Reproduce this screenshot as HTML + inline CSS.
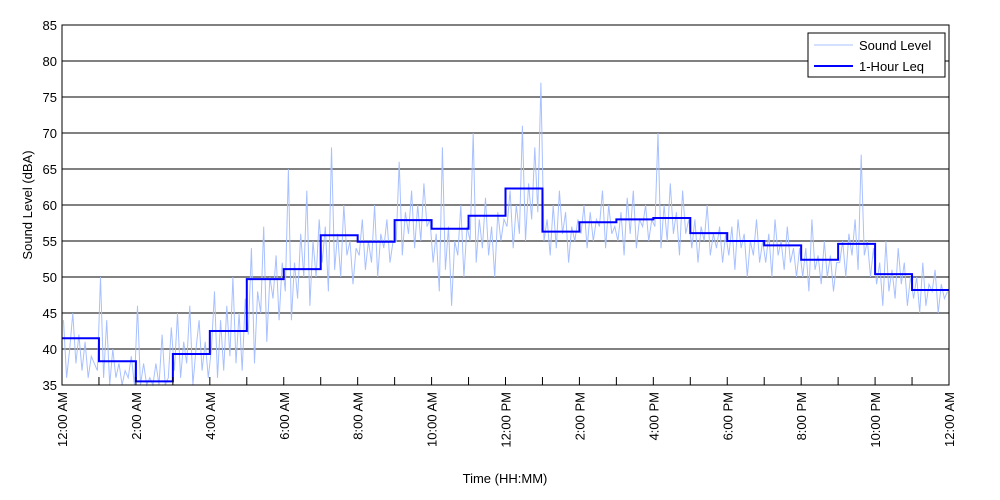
<!DOCTYPE html>
<html><head><meta charset="utf-8"><style>
body{margin:0;background:#fff;}
svg{display:block;font-family:"Liberation Sans",Arial,sans-serif;}
</style></head><body>
<svg id="chart" width="1000" height="500" viewBox="0 0 1000 500">
<rect width="1000" height="500" fill="#fff"/>
<g id="grid"></g>
<g id="trace"></g>
<g id="leq"></g>
<rect x="62" y="25" width="887" height="360" fill="none" stroke="#000" stroke-width="1"/>
<g id="ticks"></g>
<text x="0" y="0" font-size="13" text-anchor="middle" transform="translate(32,205) rotate(-90)">Sound Level (dBA)</text>
<text x="505" y="483" font-size="13" text-anchor="middle">Time (HH:MM)</text>
<g>
<rect x="808" y="33" width="137" height="44" fill="#fff" stroke="#000"/>
<line x1="814" y1="45" x2="853" y2="45" stroke="#a8c0ff" stroke-width="1"/>
<text x="859" y="50" font-size="13">Sound Level</text>
<line x1="814" y1="66" x2="853" y2="66" stroke="#0000ff" stroke-width="2"/>
<text x="859" y="71" font-size="13">1-Hour Leq</text>
</g>
</svg>
<script>
const yTicks=[35,40,45,50,55,60,65,70,75,80,85];
const xTickLabels=["12:00 AM","2:00 AM","4:00 AM","6:00 AM","8:00 AM","10:00 AM","12:00 PM","2:00 PM","4:00 PM","6:00 PM","8:00 PM","10:00 PM","12:00 AM"];
const leqValues=[41.5,38.3,35.5,39.3,42.5,49.7,51.1,55.8,54.9,57.9,56.7,58.5,62.3,56.3,57.6,58.0,58.2,56.1,55.0,54.4,52.4,54.6,50.4,48.2];
const soundValues=[
44,36,40,45,38,42,37,41,36,39,38,37, 50,36,44,35,40,36,38,35,37,36,39,35,
46,35,38,35,36,35,38,35,42,35,36,43, 37,45,36,41,38,46,35,40,44,37,41,36,
40,48,36,44,37,46,39,50,38,45,37,47, 42,54,38,48,45,57,41,50,47,53,44,52,
48,65,44,52,47,56,50,62,46,55,50,58, 52,57,48,68,51,56,50,60,53,55,49,54,
53,58,51,55,52,60,50,56,54,58,52,55, 55,66,53,59,56,62,54,60,55,63,57,58,
52,56,48,68,51,57,46,55,53,60,50,57, 55,70,52,58,54,61,53,57,50,59,55,58,
57,62,54,60,56,71,55,63,58,68,59,77, 55,58,53,60,54,62,56,59,52,57,55,58,
56,60,54,59,55,58,57,62,54,60,56,57, 55,59,53,61,56,62,54,58,57,60,55,58,
57,70,54,60,55,63,56,59,53,62,56,58, 54,58,52,57,55,60,53,56,54,57,52,56,
53,57,51,58,54,56,50,55,53,58,52,55, 52,56,50,58,53,55,51,57,52,54,50,54,
50,54,48,58,51,53,49,55,50,53,48,52, 52,55,50,56,53,58,51,67,53,55,50,54,
49,52,46,55,48,51,47,54,49,52,46,50, 47,50,45,52,46,49,48,51,45,49,47,48];
const NS="http://www.w3.org/2000/svg";
const X0=62,X1=949,Y0=385,Y1=25;
function xs(h){return X0+(X1-X0)*h/24;}
function ys(v){return Y0-(v-35)*(Y0-Y1)/50;}
function mk(t,a,p){const e=document.createElementNS(NS,t);for(const k in a)e.setAttribute(k,a[k]);p.appendChild(e);return e;}
const grid=document.getElementById('grid'),ticks=document.getElementById('ticks');
yTicks.forEach(v=>{
 if(v>35&&v<85){const l=mk('line',{x1:X0,x2:X1,y1:ys(v),y2:ys(v),stroke:'#000','stroke-width':1},grid);
 
 }
 const t=mk('text',{x:57,y:ys(v)+5,'font-size':13,'text-anchor':'end'},ticks);
 t.textContent=v;
 
 
});
for(let h=1;h<24;h++){const l=mk('line',{x1:xs(h),x2:xs(h),y1:Y0,y2:Y0-8,stroke:'#000'},ticks);
 
 }
xTickLabels.forEach((s,i)=>{const x=xs(i*2);
 const t=mk('text',{x:0,y:0,'font-size':13,'text-anchor':'end',transform:`translate(${x+5},392) rotate(-90)`},ticks);
 t.textContent=s;
 
 });
const n=soundValues.length;
let d=soundValues.map((v,i)=>(i?'L':'M')+xs(i*24/n+24/n/2).toFixed(1)+','+ys(Math.max(35,v)).toFixed(1)).join('');
const tr=mk('path',{d:d,fill:'none',stroke:'#a8c0ff','stroke-width':1},document.getElementById('trace'));


let ld='';
leqValues.forEach((v,i)=>{ld+=(i?'L':'M')+xs(i)+','+ys(v)+'L'+xs(i+1)+','+ys(v);});
const lq=mk('path',{d:ld,fill:'none',stroke:'#0000ff','stroke-width':2},document.getElementById('leq'));


</script>
</body></html>
